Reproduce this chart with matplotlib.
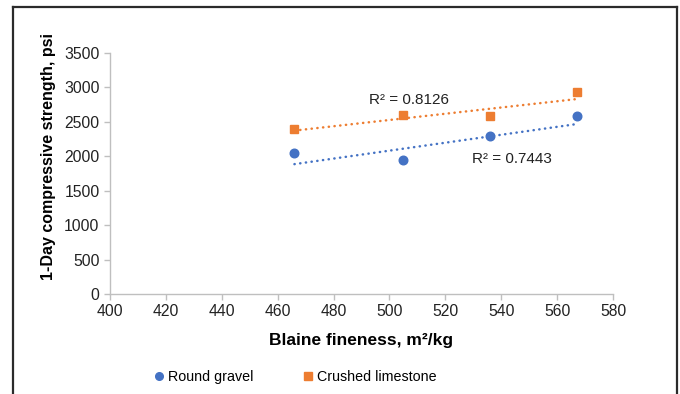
import numpy as np
import matplotlib
matplotlib.use("Agg")
import matplotlib.pyplot as plt
from matplotlib.lines import Line2D

plt.rcParams['font.family'] = ['Liberation Sans', 'DejaVu Sans']

# data
fineness = [466, 505, 536, 567]
round_gravel = [2050, 1945, 2300, 2580]
crushed_limestone = [2400, 2600, 2580, 2940]
# linear trendlines as drawn (value at first and last fineness)
trend_gravel = [1886, 2468]
trend_limestone = [2373, 2831]
r2_labels = ["R² = 0.7443", "R² = 0.8126"]

blue = '#4472C4'
orange = '#ED7D31'

fig = plt.figure(figsize=(6.8, 3.94), dpi=100)
ax = fig.add_axes([0.1618, 0.2538, 0.9015 - 0.1618, 0.8655 - 0.2538])

x_ends = [fineness[0], fineness[-1]]
for y, t, col, mk, ms in [(round_gravel, trend_gravel, blue, 'o', 6.2),
                          (crushed_limestone, trend_limestone, orange, 's', 6.0)]:
    ax.plot(fineness, y, linestyle='none', marker=mk, color=col, markersize=ms, zorder=3)
    ax.plot(x_ends, t, color=col, lw=1.8, linestyle=(0, (0.1, 2.2)),
            dash_capstyle='round', zorder=2)

ax.text(507, 2821, r2_labels[1], ha='center', va='center', fontsize=11, color='#222222')
ax.text(544, 1959, r2_labels[0], ha='center', va='center', fontsize=11, color='#222222')

ax.set_xlim(400, 580)
ax.set_ylim(0, 3500)
ax.set_xticks(np.arange(400, 581, 20))
ax.set_yticks(np.arange(0, 3501, 500))
for s in ['top', 'right']:
    ax.spines[s].set_visible(False)
for s in ['left', 'bottom']:
    ax.spines[s].set_color('#bfbfbf')
    ax.spines[s].set_linewidth(1)
ax.tick_params(axis='both', colors='#bfbfbf', labelcolor='#222222', labelsize=11.3,
               length=4, width=1)

ax.set_xlabel('Blaine fineness, m²/kg', fontsize=12.5, fontweight='bold', labelpad=10)
ax.set_ylabel('1-Day compressive strength, psi', fontsize=11.5, fontweight='bold')
ax.yaxis.set_label_coords(-0.107, 0.571)

handles = [Line2D([], [], linestyle='none', marker='o', color=blue, markersize=5.5),
           Line2D([], [], linestyle='none', marker='s', color=orange, markersize=5.5)]
fig.legend(handles, ['Round gravel', 'Crushed limestone'], loc='center',
           bbox_to_anchor=(0.432, 0.044), ncol=2, frameon=False, fontsize=10.3,
           handletextpad=0.05, columnspacing=3.2, handlelength=1.2)

# outer frame (left, top, right)
frame_kw = dict(color='#2b2b2b', lw=1.6, transform=fig.transFigure)
fig.add_artist(Line2D([13 / 680, 13 / 680], [0, 1 - 7 / 394], **frame_kw))
fig.add_artist(Line2D([13 / 680, 677 / 680], [1 - 7 / 394, 1 - 7 / 394], **frame_kw))
fig.add_artist(Line2D([677 / 680, 677 / 680], [0, 1 - 7 / 394], **frame_kw))

fig.savefig('out.png', dpi=100)
